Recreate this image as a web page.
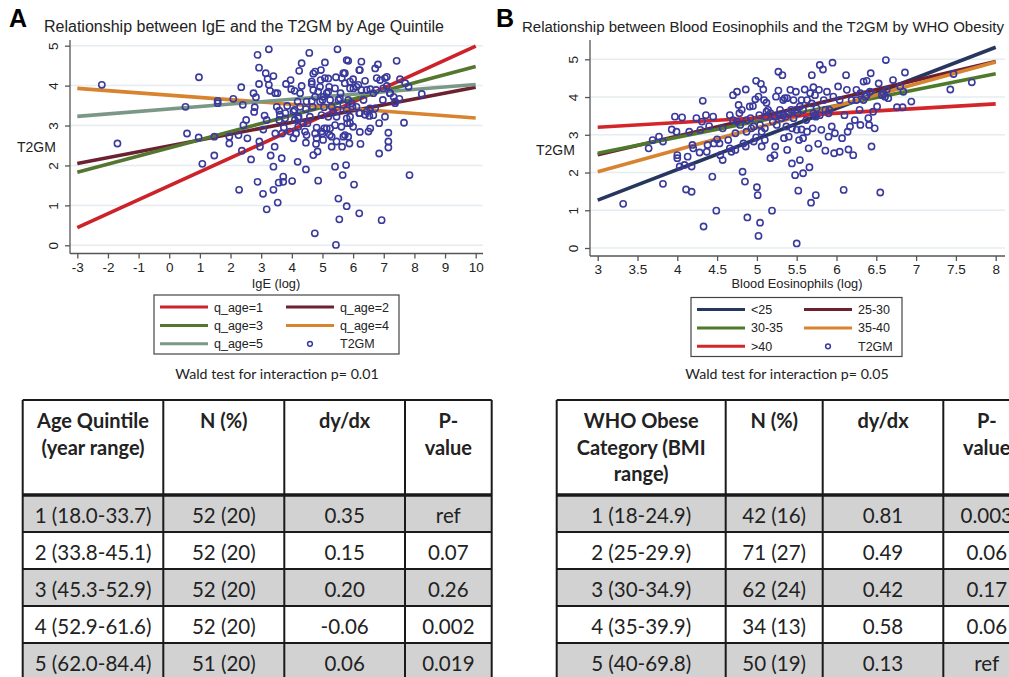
<!DOCTYPE html>
<html>
<head>
<meta charset="utf-8">
<script src="https://cdn.jsdelivr.net/npm/d3@7"></script>
<style>
  body { margin: 0; background: #fff; }
  svg { display: block; }
  .stata { font-family: "Liberation Sans", Arial, sans-serif; fill: #222; }
  .cal { font-family: Lato, "Open Sans", sans-serif; fill: #222; }
</style>
</head>
<body>
<svg id="fig" width="1009" height="677"></svg>
<script>
const d3w = window.d3

// ---- panel A: IgE vs T2GM by age quintile ----
const seriesA = ['q_age=1', 'q_age=2', 'q_age=3', 'q_age=4', 'q_age=5']
const colorsA = ['#cc2229', '#6c2131', '#55762f', '#d8832f', '#7b9886']
const fitStartA = [0.44, 2.05, 1.83, 3.93, 3.23]   // fitted value at IgE = -3
const fitEndA = [4.99, 3.96, 4.48, 3.19, 4.03]     // fitted value at IgE = 10
const xTicksA = [-3, -2, -1, 0, 1, 2, 3, 4, 5, 6, 7, 8, 9, 10]
const yTicks = [0, 1, 2, 3, 4, 5]
const pointsA = [
  [-2.2, 4.02], [-1.69, 2.55], [0.97, 4.21], [0.53, 3.47], [0.58, 2.80], [0.96, 2.70], [1.08, 2.04],
  [1.47, 2.72], [1.47, 2.25], [1.58, 3.62], [1.58, 3.56], [2.09, 3.67], [1.96, 2.72], [1.96, 2.55],
  [2.26, 2.76], [2.28, 1.39], [2.35, 3.96], [2.40, 3.52], [2.42, 3.01], [2.51, 3.14], [2.55, 2.68],
  [2.37, 2.37], [2.67, 2.15], [2.75, 3.81], [2.83, 3.71], [2.79, 3.46], [2.77, 3.34], [2.88, 4.77],
  [2.93, 4.45], [2.93, 4.04], [2.88, 1.59], [2.94, 2.60], [2.96, 2.47], [3.06, 1.29], [3.18, 0.90],
  [3.25, 4.91], [3.15, 4.31], [3.21, 4.17], [3.25, 4.02], [3.40, 4.24], [3.29, 3.87], [3.46, 3.81],
  [3.53, 3.81], [3.11, 3.25], [3.18, 3.14], [3.07, 2.90], [3.31, 2.25], [3.40, 1.97], [3.44, 2.47],
  [3.46, 2.80], [3.40, 1.39], [3.54, 1.07], [3.57, 1.57], [3.72, 1.72], [3.72, 1.59], [3.67, 2.18],
  [3.68, 2.80], [3.74, 2.95], [3.59, 3.14], [3.59, 3.37], [3.85, 3.49], [3.79, 3.31], [3.81, 4.04],
  [3.96, 4.14], [3.98, 3.91], [4.01, 1.61], [4.19, 2.09], [4.05, 2.68], [4.14, 2.80], [4.21, 2.97],
  [4.10, 3.14], [4.22, 3.22], [4.09, 3.39], [4.19, 3.60], [4.09, 3.87], [4.27, 3.81], [4.32, 3.99],
  [4.24, 4.37], [4.32, 4.56], [4.46, 1.90], [4.46, 2.57], [4.43, 2.85], [4.51, 3.06], [4.46, 3.41],
  [4.57, 4.82], [4.65, 4.04], [4.65, 3.61], [4.68, 3.47], [4.70, 4.30], [4.75, 0.30], [4.70, 2.26],
  [4.79, 2.54], [4.84, 2.35], [4.86, 1.62], [4.76, 2.80], [4.81, 2.95], [4.76, 3.72], [4.86, 3.85],
  [4.92, 3.97], [4.94, 4.14], [4.95, 4.39], [5.08, 4.58], [5.00, 3.64], [5.05, 3.46], [4.97, 3.26],
  [5.00, 2.80], [5.02, 2.64], [5.06, 2.93], [5.19, 4.18], [5.22, 3.97], [5.14, 3.81], [5.25, 3.64],
  [5.30, 3.47], [5.19, 3.22], [5.25, 2.93], [5.30, 2.72], [5.30, 2.47], [5.41, 1.97], [5.49, 4.91],
  [5.44, 4.21], [5.41, 3.93], [5.52, 3.64], [5.49, 3.39], [5.44, 0.01], [5.52, 1.17], [5.55, 0.65],
  [5.66, 1.76], [5.64, 2.47], [5.68, 2.72], [5.62, 2.97], [5.68, 4.31], [5.73, 4.06], [5.59, 3.81],
  [5.77, 2.01], [5.79, 4.64], [5.84, 4.62], [5.79, 0.98], [5.88, 2.55], [5.84, 2.72], [5.81, 3.06],
  [5.90, 3.22], [5.84, 3.64], [5.90, 3.93], [6.00, 4.16], [6.03, 1.52], [6.00, 2.97], [5.98, 3.47],
  [6.11, 3.97], [6.20, 0.80], [6.24, 2.54], [6.22, 2.84], [6.20, 3.31], [6.20, 4.39], [6.27, 4.60],
  [6.27, 3.89], [6.34, 3.64], [6.39, 4.12], [6.45, 3.35], [6.50, 2.85], [6.56, 2.93], [6.53, 3.24],
  [6.56, 3.91], [6.66, 3.26], [6.72, 3.43], [6.75, 3.89], [6.72, 4.43], [6.81, 4.53], [6.85, 3.06],
  [6.85, 2.30], [6.88, 4.14], [6.93, 0.63], [6.97, 3.64], [7.04, 3.22], [7.10, 4.22], [7.10, 3.99],
  [7.15, 2.82], [7.15, 2.60], [7.15, 2.45], [7.21, 3.81], [7.32, 3.72], [7.42, 4.62], [7.37, 3.56],
  [7.51, 3.67], [7.53, 4.16], [7.66, 3.07], [7.70, 4.06], [7.81, 3.97], [7.84, 1.76], [8.24, 3.79],
  [4.92, 3.60], [5.03, 3.72], [5.19, 3.85], [4.70, 3.89], [4.65, 4.10], [4.76, 4.35], [5.57, 3.68],
  [5.68, 3.52], [5.79, 3.39], [5.95, 3.56], [6.11, 3.47], [6.22, 3.31], [6.39, 3.27], [6.55, 3.43],
  [6.01, 3.93], [6.17, 4.02], [6.44, 3.89], [6.66, 3.81], [6.98, 3.93], [7.20, 3.81], [7.37, 3.60],
  [4.05, 3.35], [4.21, 3.18], [4.37, 3.06], [3.94, 2.85], [3.78, 3.18], [3.61, 3.27], [3.51, 3.47],
  [4.48, 2.76], [4.81, 2.68], [4.97, 2.85], [5.24, 2.76], [5.46, 2.60], [5.73, 2.76], [5.90, 3.06],
  [5.41, 3.01], [5.14, 2.93], [4.59, 3.22], [4.27, 3.47], [4.48, 3.60], [5.35, 3.35], [5.46, 3.22],
  [5.79, 3.18], [5.08, 4.19], [5.63, 4.19], [5.73, 4.31], [5.90, 4.10], [6.22, 4.39], [6.77, 4.19],
  [7.04, 4.19]
]

// ---- panel B: blood eosinophils vs T2GM by WHO obesity ----
const seriesB = ['<25', '25-30', '30-35', '35-40', '>40']
const colorsB = ['#26365e', '#6c2131', '#4f7a2c', '#d8832f', '#d3262b']
const fitStartB = [1.27, 2.47, 2.51, 2.02, 3.20]   // at log eos = 3
const fitEndB = [5.32, 4.94, 4.62, 4.93, 3.82]     // at log eos = 8
const xTicksB = [3, 3.5, 4, 4.5, 5, 5.5, 6, 6.5, 7, 7.5, 8]
const pointsB = [
  [3.32, 1.17], [3.64, 2.64], [3.69, 2.86], [3.77, 2.95], [3.82, 2.82], [3.82, 1.70], [3.93, 3.14],
  [3.97, 3.48], [3.99, 3.08], [4.00, 2.46], [4.00, 2.38], [4.06, 3.46], [4.03, 2.16], [4.09, 2.20],
  [4.11, 1.55], [4.13, 2.42], [4.15, 3.08], [4.18, 1.49], [4.18, 2.16], [4.19, 2.73], [4.20, 2.64],
  [4.24, 3.44], [4.28, 2.53], [4.29, 3.13], [4.31, 3.35], [4.32, 3.90], [4.33, 0.57], [4.36, 3.52],
  [4.37, 2.55], [4.38, 2.73], [4.40, 3.23], [4.44, 1.89], [4.45, 3.48], [4.46, 2.77], [4.49, 0.99],
  [4.50, 2.88], [4.53, 2.77], [4.54, 2.46], [4.57, 2.33], [4.57, 3.17], [4.66, 3.52], [4.64, 2.86],
  [4.68, 2.55], [4.70, 4.05], [4.73, 2.60], [4.75, 4.14], [4.75, 3.35], [4.77, 3.79], [4.78, 3.57],
  [4.81, 3.66], [4.82, 2.02], [4.83, 2.77], [4.85, 1.76], [4.86, 4.20], [4.86, 2.69], [4.87, 3.08],
  [4.88, 0.81], [4.91, 3.75], [4.92, 3.44], [4.95, 3.76], [4.96, 2.82], [4.96, 3.22], [4.98, 3.94],
  [4.99, 4.43], [4.99, 2.93], [5.00, 1.61], [5.01, 1.40], [5.02, 0.32], [5.02, 4.01], [5.03, 3.52],
  [5.04, 0.67], [5.05, 4.35], [5.06, 3.08], [5.06, 2.69], [5.08, 4.20], [5.09, 3.92], [5.10, 2.86],
  [5.11, 3.48], [5.12, 3.85], [5.14, 3.66], [5.17, 2.38], [5.19, 0.99], [5.20, 3.35], [5.22, 2.46],
  [5.23, 2.69], [5.24, 4.01], [5.25, 3.26], [5.27, 4.67], [5.27, 4.17], [5.29, 3.66], [5.32, 4.58],
  [5.33, 3.52], [5.34, 2.91], [5.35, 3.97], [5.37, 3.22], [5.38, 2.60], [5.40, 2.95], [5.42, 4.19],
  [5.43, 3.66], [5.44, 2.24], [5.44, 3.17], [5.46, 3.92], [5.48, 1.93], [5.49, 4.14], [5.50, 0.12],
  [5.51, 3.57], [5.52, 1.52], [5.53, 2.86], [5.54, 2.33], [5.56, 3.92], [5.58, 1.98], [5.58, 2.91],
  [5.60, 4.20], [5.62, 3.39], [5.63, 3.08], [5.65, 2.64], [5.66, 2.14], [5.67, 4.10], [5.68, 1.20],
  [5.69, 4.58], [5.70, 3.17], [5.71, 4.26], [5.73, 3.52], [5.74, 1.40], [5.75, 3.70], [5.77, 2.76],
  [5.78, 4.19], [5.79, 4.85], [5.81, 3.13], [5.83, 4.73], [5.84, 3.92], [5.86, 2.58], [5.88, 4.14],
  [5.90, 2.95], [5.91, 3.66], [5.94, 3.22], [5.95, 4.91], [5.96, 4.01], [5.97, 2.51], [5.98, 3.04],
  [6.02, 4.28], [6.04, 2.55], [6.04, 3.92], [6.07, 2.91], [6.09, 1.54], [6.10, 3.52], [6.12, 4.58],
  [6.13, 4.19], [6.14, 3.08], [6.15, 2.61], [6.17, 3.22], [6.19, 3.92], [6.21, 2.46], [6.23, 3.39],
  [6.25, 4.19], [6.29, 3.66], [6.30, 3.26], [6.34, 4.41], [6.36, 4.01], [6.38, 4.43], [6.40, 3.44],
  [6.41, 3.26], [6.43, 4.63], [6.44, 2.69], [6.46, 3.61], [6.48, 3.17], [6.51, 3.75], [6.53, 4.36],
  [6.55, 1.47], [6.57, 4.05], [6.62, 4.98], [6.63, 4.19], [6.65, 3.97], [6.71, 4.45], [6.76, 3.73],
  [6.80, 4.28], [6.83, 3.73], [6.86, 4.65], [6.84, 4.14], [6.94, 3.88], [7.43, 4.20], [7.47, 4.61],
  [7.70, 4.39],
  [5.12, 3.61], [5.17, 3.57], [5.23, 3.48], [5.28, 3.52], [5.31, 3.44], [5.36, 3.48], [5.40, 3.57],
  [5.46, 3.44], [5.49, 3.66], [5.54, 3.75], [5.58, 3.66], [5.71, 3.57], [5.74, 3.48], [5.79, 3.52],
  [5.86, 3.66], [5.90, 3.57], [6.25, 3.92], [6.30, 4.10], [6.34, 3.92], [6.38, 4.05], [6.42, 4.14],
  [6.59, 4.10], [6.61, 4.01], [5.50, 3.13], [5.56, 3.14], [5.33, 3.92], [5.38, 3.97], [5.63, 3.92],
  [5.73, 4.05], [5.69, 3.83], [4.93, 3.17], [4.87, 3.39], [4.79, 3.26], [4.70, 3.39], [4.73, 3.04],
  [4.66, 2.64], [5.04, 3.26], [5.10, 3.17]
]

// ---- tables ----
const tableAHead = [['Age Quintile', '(year range)'], ['N (%)'], ['dy/dx'], ['P-', 'value']]
const tableAGroup = ['1 (18.0-33.7)', '2 (33.8-45.1)', '3 (45.3-52.9)', '4 (52.9-61.6)', '5 (62.0-84.4)']
const tableAN = ['52 (20)', '52 (20)', '52 (20)', '52 (20)', '51 (20)']
const tableADydx = ['0.35', '0.15', '0.20', '-0.06', '0.06']
const tableAP = ['ref', '0.07', '0.26', '0.002', '0.019']

const tableBHead = [['WHO Obese', 'Category (BMI', 'range)'], ['N (%)'], ['dy/dx'], ['P-', 'value']]
const tableBGroup = ['1 (18-24.9)', '2 (25-29.9)', '3 (30-34.9)', '4 (35-39.9)', '5 (40-69.8)']
const tableBN = ['42 (16)', '71 (27)', '62 (24)', '34 (13)', '50 (19)']
const tableBDydx = ['0.81', '0.49', '0.42', '0.58', '0.13']
const tableBP = ['0.003', '0.06', '0.17', '0.06', 'ref']

const svg = d3w.select('#fig')
const MARK = '#3a3a9c'
const GRID = '#e6ecef'

// shrink/grow a text so that it spans the given width
function fitWidth(sel, width, base) {
  const w = sel.node().getComputedTextLength()
  sel.style('font-size', (base * width / w).toFixed(2) + 'px')
}

function drawPanel(cfg) {
  const g = svg.append('g')
  const x = d3w.scaleLinear().domain(cfg.xDomain).range(cfg.xRange)
  const y = d3w.scaleLinear().domain([0, 5]).range(cfg.yRange)

  // gridlines
  g.append('g').selectAll('line').data(yTicks).join('line')
    .attr('x1', cfg.axisX).attr('x2', cfg.plotRight)
    .attr('y1', d => y(d)).attr('y2', d => y(d))
    .attr('stroke', GRID).attr('stroke-width', 1.5)

  // y axis, labels turned on their side as Stata does
  const yAx = g.append('g').attr('transform', `translate(${cfg.axisX},0)`)
    .call(d3w.axisLeft(y).tickValues(yTicks).tickSize(5).tickFormat(d3w.format('d')))
  yAx.select('.domain').attr('d', `M0,${cfg.axisTop}V${cfg.axisY}`)
  yAx.selectAll('text')
    .attr('x', -12).attr('y', 0).attr('dy', 0)
    .attr('transform', 'rotate(-90,-12,0)')
    .style('text-anchor', 'middle')

  // x axis
  const xAx = g.append('g').attr('transform', `translate(0,${cfg.axisY})`)
    .call(d3w.axisBottom(x).tickValues(cfg.xTicks).tickSize(5).tickFormat(d => String(d)))
  xAx.select('.domain').attr('d', `M${cfg.axisX},0H${cfg.plotRight}`)

  ;[yAx, xAx].forEach(ax => {
    ax.attr('font-family', null).attr('font-size', null)
    ax.selectAll('.domain').attr('stroke', '#555').attr('stroke-width', 1.3)
    ax.selectAll('.tick line').attr('stroke', '#555').attr('stroke-width', 1.3)
    ax.selectAll('text').attr('class', 'stata').style('font-size', '13.5px')
  })
  xAx.selectAll('text').attr('y', 8.5)

  // fitted lines
  cfg.series.forEach((s, i) => {
    g.append('line')
      .attr('x1', x(cfg.xDomain[0])).attr('y1', y(cfg.fitStart[i]))
      .attr('x2', x(cfg.xDomain[1])).attr('y2', y(cfg.fitEnd[i]))
      .attr('stroke', cfg.colors[i]).attr('stroke-width', 3.6)
  })

  // scatter on top
  g.append('g').selectAll('circle').data(cfg.points).join('circle')
    .attr('cx', d => x(d[0])).attr('cy', d => y(d[1])).attr('r', 3.1)
    .attr('fill', 'none').attr('stroke', MARK).attr('stroke-width', 1.6)

  // labels
  const title = g.append('text').attr('class', 'stata').attr('x', cfg.titleX).attr('y', 32)
    .style('font-size', '16px').text(cfg.title)
  fitWidth(title, cfg.titleW, 16)
  g.append('text').attr('class', 'stata').attr('x', cfg.letterX).attr('y', 27)
    .style('font-size', '25px').style('font-weight', 'bold').style('fill', '#000').text(cfg.letter)
  g.append('text').attr('class', 'stata').attr('x', cfg.yLabelX).attr('y', cfg.yLabelY)
    .style('font-size', '14px').text('T2GM')
  g.append('text').attr('class', 'stata')
    .attr('x', cfg.xLabelX).attr('y', 288)
    .attr('text-anchor', 'middle').style('font-size', '12.8px').text(cfg.xLabel)

  // legend
  const L = cfg.legend
  const lg = g.append('g')
  lg.append('rect').attr('x', L.x).attr('y', L.y).attr('width', L.w).attr('height', L.h)
    .attr('fill', '#fff').attr('stroke', '#444').attr('stroke-width', 1.2)
  const entries = cfg.series.map((s, i) => ({ label: s, color: cfg.colors[i], type: 'line' }))
  entries.push({ label: 'T2GM', type: 'marker' })
  entries.forEach((e, i) => {
    const col = i % 2, row = Math.floor(i / 2)
    const lx = L.x + 6 + col * L.colW
    const ly = L.y + 12 + row * 18.4
    if (e.type === 'line') {
      lg.append('line').attr('x1', lx).attr('x2', lx + L.lineW).attr('y1', ly).attr('y2', ly)
        .attr('stroke', e.color).attr('stroke-width', 3)
    } else {
      lg.append('circle').attr('cx', lx + L.lineW / 2).attr('cy', ly).attr('r', 2.4)
        .attr('fill', 'none').attr('stroke', MARK).attr('stroke-width', 1.5)
    }
    lg.append('text').attr('class', 'stata').attr('x', lx + L.lineW + 6).attr('y', ly + 4.5)
      .style('font-size', '12.5px').text(e.label)
  })

  g.append('text').attr('class', 'cal').attr('x', cfg.waldX).attr('y', 379)
    .attr('text-anchor', 'middle').style('font-size', '14.2px').text(cfg.wald)
}

drawPanel({
  letter: 'A', letterX: 9, title: 'Relationship between IgE and the T2GM by Age Quintile', titleX: 44, titleW: 400,
  xDomain: [-3, 10], xRange: [77.3, 475.7], yRange: [245.3, 45.7], xTicks: xTicksA,
  axisX: 70, axisY: 253.5, axisTop: 40, plotRight: 483,
  series: seriesA, colors: colorsA, fitStart: fitStartA, fitEnd: fitEndA, points: pointsA,
  yLabelX: 17, yLabelY: 152, xLabel: 'IgE (log)', xLabelX: 276,
  legend: { x: 154, y: 295, w: 245, h: 59, colW: 126, lineW: 48 },
  wald: 'Wald test for interaction p= 0.01', waldX: 277
})

drawPanel({
  letter: 'B', letterX: 496, title: 'Relationship between Blood Eosinophils and the T2GM by WHO Obesity', titleX: 522, titleW: 482,
  xDomain: [3, 8], xRange: [597.7, 995.7], yRange: [248, 59.3], xTicks: xTicksB,
  axisX: 590, axisY: 256, axisTop: 40, plotRight: 1005,
  series: seriesB, colors: colorsB, fitStart: fitStartB, fitEnd: fitEndB, points: pointsB,
  yLabelX: 536, yLabelY: 155, xLabel: 'Blood Eosinophils (log)', xLabelX: 797,
  legend: { x: 691, y: 297.5, w: 211, h: 59, colW: 107, lineW: 48 },
  wald: 'Wald test for interaction p= 0.05', waldX: 787
})

// ---- tables ----
function drawTable(x0, colW, head, cols) {
  const g = svg.append('g')
  const top = 400, headH = 95, rowH = 37
  const xs = [x0]
  colW.forEach(w => xs.push(xs[xs.length - 1] + w))
  const nRows = cols[0].length

  d3w.range(nRows).forEach(r => {
    g.append('rect').attr('x', x0).attr('y', top + headH + r * rowH)
      .attr('width', xs[xs.length - 1] - x0).attr('height', rowH)
      .attr('fill', r % 2 === 0 ? '#d2d2d2' : '#fff')
  })

  head.forEach((lines, c) => {
    const cx = (xs[c] + xs[c + 1]) / 2
    lines.forEach((t, k) => {
      g.append('text').attr('class', 'cal').attr('x', cx).attr('y', top + 28 + k * 26.5)
        .attr('text-anchor', 'middle').style('font-size', '20px').style('font-weight', 'bold').text(t)
    })
  })
  cols.forEach((vals, c) => {
    const cx = (xs[c] + xs[c + 1]) / 2
    vals.forEach((t, r) => {
      g.append('text').attr('class', 'cal').attr('x', cx).attr('y', top + headH + r * rowH + 28)
        .attr('text-anchor', 'middle').style('font-size', '20.5px').text(t)
    })
  })

  // grid lines
  const bottom = top + headH + nRows * rowH
  xs.forEach(xv => {
    g.append('line').attr('x1', xv).attr('x2', xv).attr('y1', top).attr('y2', bottom)
      .attr('stroke', '#1a1a1a').attr('stroke-width', 2)
  })
  g.append('line').attr('x1', x0).attr('x2', xs[xs.length - 1]).attr('y1', top).attr('y2', top)
    .attr('stroke', '#1a1a1a').attr('stroke-width', 2)
  g.append('line').attr('x1', x0).attr('x2', xs[xs.length - 1]).attr('y1', top + headH).attr('y2', top + headH)
    .attr('stroke', '#1a1a1a').attr('stroke-width', 3.5)
  d3w.range(1, nRows + 1).forEach(r => {
    const yv = top + headH + r * rowH
    g.append('line').attr('x1', x0).attr('x2', xs[xs.length - 1]).attr('y1', yv).attr('y2', yv)
      .attr('stroke', '#1a1a1a').attr('stroke-width', 2)
  })
}

drawTable(22.7, [140.6, 121, 120.7, 86.7], tableAHead, [tableAGroup, tableAN, tableADydx, tableAP])
drawTable(556.7, [169, 97, 120.6, 87], tableBHead, [tableBGroup, tableBN, tableBDydx, tableBP])
</script>
</body>
</html>
